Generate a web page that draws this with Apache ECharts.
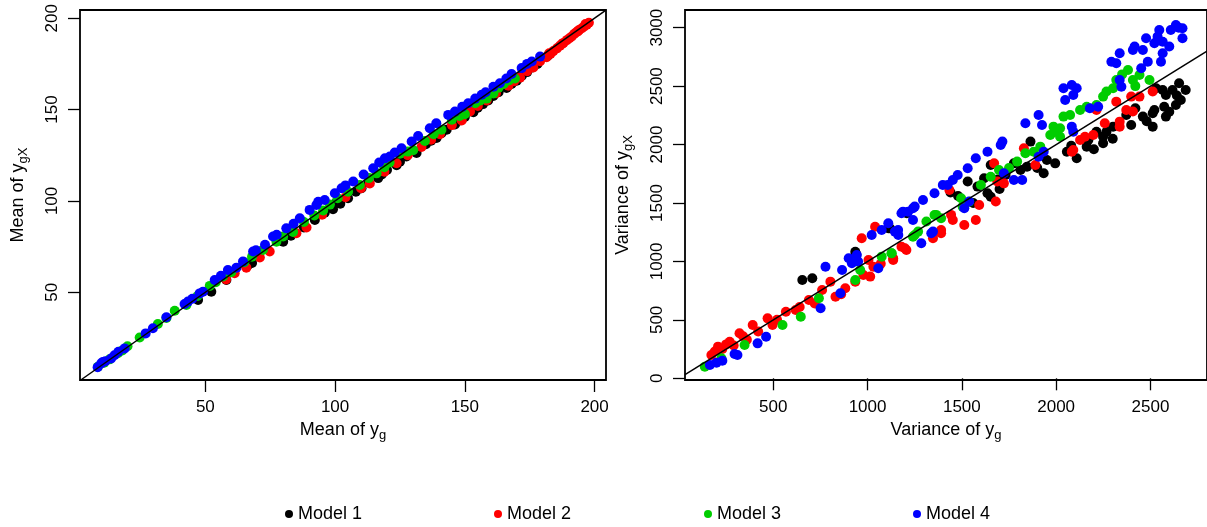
<!DOCTYPE html>
<html>
<head>
<meta charset="utf-8">
<script src="https://cdn.jsdelivr.net/npm/echarts@6/dist/echarts.min.js"></script>
<style>
  html, body { margin: 0; padding: 0; background: #fff; }
  #chart { width: 1207px; height: 527px; }
</style>
</head>
<body>
<div id="chart"></div>
<script>
// model names and colours (R palette: black, red, green3, blue)
var models = ['Model 1', 'Model 2', 'Model 3', 'Model 4'];
var colors = ['#000000', '#FF0000', '#00CD00', '#0000FF'];

// left panel: mean of y_g vs mean of y_gX
var meanModel1 = [[47.2,45.8],[52.3,50.3],[58.1,56.7],[66.4,64.8],[68,66],[80,77.7],[83,81],[88,85.5],[92.2,89.6],[96,93.5],[99.2,95.5],[100.5,99.2],[102,98.5],[105,101.5],[108,105],[110.2,106.9],[113,110],[116.6,112.5],[118,114.5],[120,117],[123.7,119.5],[125,121.5],[127.5,124.3],[131.4,126.2],[135,131],[137,133],[139.1,134.5],[141,137],[143,139],[146.2,141.8],[148,144],[150,146],[153.3,148.6],[155,151],[157,153],[159,155],[161,157.5],[163,159.5],[166.1,161.8],[168,164],[170,165.8],[172,168.5],[174,170.5],[176,173],[178,175],[182,179.5]];
var meanModel2 = [[58,57],[61.3,60.4],[65.8,63.5],[71,69],[74.8,72.3],[85.1,82.3],[89,85.5],[95,92.5],[104,102],[110,107],[113.4,109.5],[119,116],[123.7,120.6],[128,125],[133.3,129.5],[137,133.5],[140.4,136.5],[145,141.5],[148.8,144],[152,149],[155,152],[158.4,155],[162,159],[166.8,163],[169,165.5],[171.3,167.5],[174,171],[176.4,173],[179,176.5],[181.5,178.6],[183,180.5],[184.1,182],[185.5,183.5],[186.7,185],[188,186.5],[189.3,188],[190.3,189],[191.2,190],[192.2,191.5],[193.1,192.5],[194,193.5],[195.1,194.5],[196,195.5],[197,196.5],[197.8,197.5],[182.5,180.8],[187.5,186],[193.5,192.8],[196.5,196.8]];
var meanModel3 = [[8.6,9.3],[11,11.5],[13.1,13.3],[16.3,16.6],[18,18.2],[20,20.5],[24.7,25.3],[31.7,32.6],[35,36],[38.2,39.9],[42.7,43],[47,48],[51.7,53.5],[54,55.5],[56.8,58.6],[60,61],[65,66.5],[68,69.5],[72.2,73.2],[77.4,77.7],[80,80.5],[83.8,83],[88,88.5],[92,92],[95.4,94.8],[98,98],[101,101.5],[105,105],[109.5,108.7],[113,112.5],[116,115.1],[119,118.5],[121,121],[125,125.8],[128,127],[130.1,127.8],[134.6,132.8],[138,136.5],[141,139],[145,144.5],[148,146.5],[150,147.5],[154,153.5],[156,155],[158.4,156],[161,158.8],[163,162],[165,164],[167,166],[169.3,167]];
var meanModel4 = [[8.5,9],[9.9,11.1],[10.5,11.8],[11.5,12.3],[13.7,13.8],[15,15.5],[16.5,17.5],[18.9,19.3],[27,27.5],[29.8,30.3],[35,36.3],[42,43.6],[43.3,44.9],[45,46.5],[47.8,49.4],[49.1,50.3],[53.6,56.7],[56,59],[58.7,62.2],[62,63.5],[64.5,66.8],[68.4,72.3],[69.5,73],[73,76],[76.1,80.5],[77.5,81.5],[81.2,85],[84,87.5],[86.4,90.5],[90.2,95.1],[92.8,97.8],[93.5,99.6],[96,100.5],[99.9,104.2],[102.5,106.9],[104,108.5],[107,110.6],[111,114.5],[114.7,117.9],[117,121],[119.2,123.3],[121.1,124.3],[123,126.5],[125.6,128.8],[129.5,132.5],[132,135.5],[136.5,139.8],[139,142.5],[143.6,147.1],[146.2,148.9],[149,151.5],[151.3,153.5],[154,156],[156.5,158.1],[158,159.5],[161,162.5],[163.5,164.4],[166,167],[168,169.5],[171.9,172.7],[174,175],[175.8,176.3],[179,179]];

// right panel: variance of y_g vs variance of y_gX
var varModel1 = [[654,841],[707,856],[935,1083],[940,1060],[1119,1283],[1208,1412],[1110,1284],[1440,1590],[1480,1560],[1531,1683],[1560,1500],[1583,1640],[1618,1711],[1636,1583],[1653,1554],[1653,1825],[1690,1700],[1700,1620],[1732,1740],[1776,1839],[1811,1782],[1846,1811],[1864,2025],[1900,1800],[1934,1754],[1951,1868],[1995,1839],[2057,1939],[2080,1990],[2109,1882],[2162,1982],[2171,2039],[2200,1960],[2214,2110],[2249,2011],[2249,2067],[2267,2110],[2300,2050],[2302,2153],[2372,2253],[2398,2167],[2420,2310],[2460,2239],[2480,2200],[2512,2153],[2512,2267],[2521,2296],[2530,2481],[2565,2467],[2573,2324],[2582,2239],[2582,2424],[2600,2280],[2617,2467],[2635,2338],[2640,2420],[2652,2524],[2661,2381],[2687,2467]];
var varModel2 = [[172,199],[190,230],[207,271],[230,250],[250,290],[269,313],[290,280],[321,385],[340,360],[360,330],[391,456],[420,400],[470,513],[496,456],[520,500],[567,570],[619,584],[640,610],[689,670],[720,640],[759,756],[803,827],[830,698],[860,720],[882,770],[935,827],[969,1198],[978,884],[1005,1012],[1014,870],[1031,955],[1040,1297],[1070,980],[1136,1013],[1136,1027],[1180,1126],[1198,1112],[1206,1098],[1347,1198],[1390,1241],[1390,1269],[1434,1611],[1443,1398],[1452,1355],[1513,1312],[1574,1355],[1592,1483],[1671,1839],[1680,1512],[1688,1683],[1723,1668],[1829,1968],[1890,1825],[2083,1939],[2091,1953],[2127,2039],[2153,2067],[2197,2082],[2214,2296],[2258,2182],[2319,2367],[2337,2196],[2337,2153],[2372,2296],[2398,2410],[2407,2282],[2442,2410],[2512,2453]];
var varModel3 = [[137,99],[225,171],[348,285],[549,456],[646,527],[742,685],[935,841],[961,927],[1075,1041],[1127,1070],[1128,1070],[1241,1212],[1250,1226],[1268,1255],[1312,1341],[1355,1397],[1364,1398],[1390,1369],[1496,1540],[1504,1469],[1539,1511],[1601,1654],[1653,1725],[1697,1782],[1750,1800],[1793,1854],[1837,1925],[1881,1939],[1916,1982],[1969,2082],[1986,2153],[1995,2110],[2021,2067],[2021,2139],[2039,2239],[2074,2253],[2127,2296],[2162,2324],[2214,2338],[2249,2410],[2267,2453],[2302,2481],[2319,2552],[2350,2600],[2381,2638],[2407,2552],[2420,2500],[2442,2595],[2495,2552]];
var varModel4 = [[164,114],[199,134],[230,150],[295,208],[310,200],[417,299],[462,356],[751,599],[777,955],[856,727],[865,927],[900,1027],[917,984],[943,1055],[950,1000],[1022,1226],[1057,941],[1075,1269],[1110,1326],[1145,1255],[1162,1269],[1163,1226],[1180,1412],[1188,1426],[1215,1426],[1241,1355],[1241,1455],[1250,1469],[1285,1155],[1294,1526],[1338,1241],[1347,1255],[1355,1583],[1399,1654],[1425,1654],[1452,1697],[1478,1739],[1513,1455],[1531,1797],[1539,1512],[1574,1882],[1636,1939],[1706,1996],[1715,2025],[1723,1754],[1776,1697],[1820,1697],[1837,2182],[1907,1896],[1907,2253],[1925,2167],[1934,1939],[2039,2481],[2048,2381],[2083,2153],[2083,2510],[2091,2110],[2091,2424],[2109,2481],[2179,2310],[2223,2324],[2293,2709],[2319,2695],[2337,2552],[2337,2781],[2346,2495],[2407,2809],[2416,2838],[2451,2652],[2460,2809],[2477,2909],[2486,2709],[2521,2866],[2538,2923],[2547,2980],[2556,2709],[2565,2880],[2565,2781],[2600,2838],[2608,2980],[2635,3023],[2650,3000],[2670,2995],[2670,2909]];

// y = x reference lines
var meanLine = [[2, 2], [204.4, 204.4]];
var varLine = [[32, 32], [2800, 2800]];

// tick values
var meanTicks = [50, 100, 150, 200];
var varXTicks = [500, 1000, 1500, 2000, 2500];
var varYTicks = [0, 500, 1000, 1500, 2000, 2500, 3000];

var FONT = "'Liberation Sans', Arial, sans-serif";

function nameStyle() {
  return {
    fontSize: 18, color: '#000', fontFamily: FONT,
    rich: { s: { fontSize: 13, color: '#000', fontFamily: FONT, padding: [10, 0, 0, 0] } }
  };
}

function labelStyle(ticks, rotate) {
  return {
    color: '#000', fontSize: 17, fontFamily: FONT, margin: 19, rotate: rotate || 0,
    customValues: ticks,
    formatter: function (v) { return String(v); }
  };
}

function axis(opts) {
  return Object.assign({
    type: 'value',
    scale: true,
    splitLine: { show: false },
    axisLine: { show: false },
    axisTick: { show: true, length: 12, lineStyle: { color: '#000', width: 1.3 }, customValues: opts.ticks },
    axisLabel: labelStyle(opts.ticks, opts.rotate),
    nameLocation: 'middle',
    nameTextStyle: nameStyle()
  }, opts.extra);
}

var chart = echarts.init(document.getElementById('chart'), null, { renderer: 'canvas' });

var series = [];
var meanData = [meanModel1, meanModel2, meanModel3, meanModel4];
var varData = [varModel1, varModel2, varModel3, varModel4];
models.forEach(function (m, i) {
  series.push({
    name: m, type: 'scatter', xAxisIndex: 0, yAxisIndex: 0,
    symbol: 'circle', symbolSize: 10, data: meanData[i],
    itemStyle: { color: colors[i], opacity: 1 }
  });
});
models.forEach(function (m, i) {
  series.push({
    name: m, type: 'scatter', xAxisIndex: 1, yAxisIndex: 1,
    symbol: 'circle', symbolSize: 10, data: varData[i],
    itemStyle: { color: colors[i], opacity: 1 }
  });
});
series.push({
  type: 'line', xAxisIndex: 0, yAxisIndex: 0, data: meanLine,
  symbol: 'none', lineStyle: { color: '#000', width: 1.5 }, z: 5
});
series.push({
  type: 'line', xAxisIndex: 1, yAxisIndex: 1, data: varLine,
  symbol: 'none', lineStyle: { color: '#000', width: 1.5 }, z: 5
});

var legendLeft = [285, 494, 704, 913];
var legends = models.map(function (m, i) {
  return {
    data: [m], left: legendLeft[i], top: 505, padding: 0,
    icon: 'circle', itemWidth: 8, itemHeight: 8, itemGap: 0,
    textStyle: { color: '#000', fontSize: 18, fontFamily: FONT },
    selectedMode: false
  };
});

var option = {
  animation: false,
  backgroundColor: '#fff',
  textStyle: { fontFamily: FONT },
  legend: legends,
  grid: [
    { left: 80, right: 601, top: 10, bottom: 147, show: true, borderColor: '#000', borderWidth: 1.8, backgroundColor: 'transparent' },
    { left: 685, right: -4, top: 10, bottom: 147, show: true, borderColor: '#000', borderWidth: 1.8, backgroundColor: 'transparent' }
  ],
  xAxis: [
    axis({ ticks: meanTicks, extra: { gridIndex: 0, min: 1.7, max: 204.4, name: 'Mean of y{s|g}', nameGap: 39 } }),
    axis({ ticks: varXTicks, extra: { gridIndex: 1, min: 32, max: 2800, name: 'Variance of y{s|g}', nameGap: 39 } })
  ],
  yAxis: [
    axis({ ticks: meanTicks, rotate: 90, extra: { gridIndex: 0, min: 2, max: 204.5, name: 'Mean of y{s|gX}', nameGap: 50 } }),
    axis({ ticks: varYTicks, rotate: 90, extra: { gridIndex: 1, min: -14.5, max: 3151, name: 'Variance of y{s|gX}', nameGap: 50 } })
  ],
  series: series
};

chart.setOption(option);
</script>
</body>
</html>
